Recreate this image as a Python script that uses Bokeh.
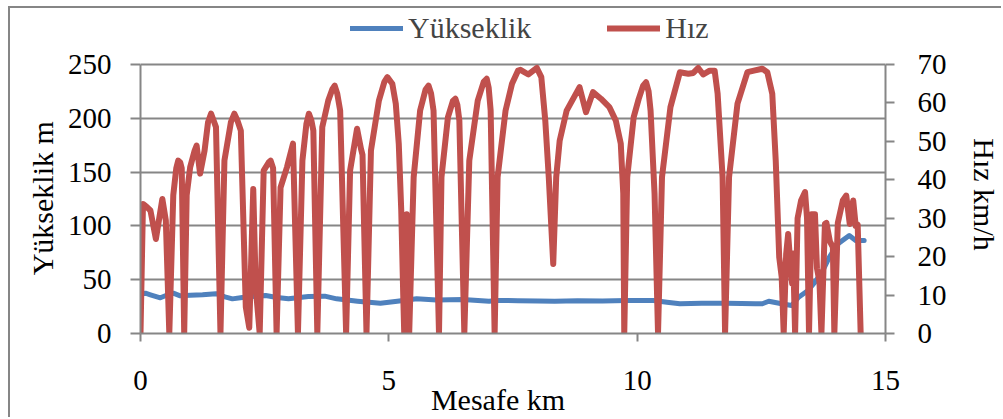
from bokeh.plotting import figure
from bokeh.models import Range1d, LinearAxis, Legend, LegendItem, FixedTicker
from bokeh.embed import file_html
from bokeh.resources import INLINE

# ---- data ----
dist_speed = [0.00, 0.05, 0.12, 0.20, 0.31, 0.44, 0.51, 0.58, 0.66, 0.72, 0.76, 0.80, 0.83, 0.88,
              0.93, 1.00, 1.09, 1.13, 1.20, 1.29, 1.36, 1.42, 1.47, 1.52, 1.61, 1.69, 1.82, 1.89,
              1.95, 2.02, 2.12, 2.19, 2.27, 2.32, 2.40, 2.48, 2.58, 2.62, 2.67, 2.74, 2.82, 2.95,
              3.07, 3.17, 3.26, 3.34, 3.39, 3.44, 3.48, 3.56, 3.66, 3.78, 3.86, 3.91, 3.96,
              4.02, 4.14, 4.22, 4.36, 4.44, 4.47, 4.55, 4.64, 4.80, 4.91, 4.97, 5.07, 5.14,
              5.20, 5.25, 5.29, 5.31, 5.36, 5.41, 5.50, 5.63, 5.74, 5.80, 5.85, 5.90, 6.01,
              6.06, 6.19, 6.29, 6.34, 6.38, 6.42, 6.52, 6.62, 6.79, 6.91, 6.97, 7.01, 7.05,
              7.13, 7.19, 7.35, 7.48, 7.60, 7.65, 7.81, 7.98, 8.07, 8.15, 8.22, 8.31, 8.37,
              8.44, 8.58, 8.84, 8.97, 9.11, 9.27, 9.44, 9.57, 9.67, 9.72, 9.74, 9.80, 9.93,
              10.03, 10.12, 10.18, 10.23, 10.27, 10.35, 10.42, 10.50, 10.67, 10.86, 11.03,
              11.13, 11.23, 11.33, 11.46, 11.56, 11.62, 11.72, 11.77, 11.85, 12.02, 12.22,
              12.35, 12.52, 12.62, 12.72, 12.79, 12.86, 12.91, 12.95, 13.00, 13.04, 13.09,
              13.12, 13.14, 13.18, 13.23, 13.30, 13.38, 13.42, 13.46, 13.51, 13.58, 13.62,
              13.67, 13.71, 13.78, 13.81, 13.88, 13.94, 13.97, 14.04, 14.14, 14.21, 14.28,
              14.35, 14.40, 14.44, 14.50]
speed = [0, 33.7, 33, 32, 24.6, 35, 29.4, 0, 36, 43, 45, 44.5, 43, 0,
         36, 43.3, 47.6, 48.9, 41.6, 47.6, 55, 57.2, 55.5, 53.7, 0, 45, 55, 57.2,
         55.5, 52.8, 6.9, 1.5, 37.6, 12, 0, 42.4, 44.5, 45, 43, 0, 38, 43.3,
         49.4, 0, 45, 54.5, 57.2, 55.5, 52.8, 0, 53.7, 60.6, 63.5, 64.5, 62.5,
         58, 0, 42.4, 53.3, 48, 46.5, 0, 47.6, 60.6, 65.5, 66.7, 65, 59.8,
         49.4, 32, 10, 0, 31, 0, 40.7, 58, 63.5, 64.5, 62.5, 58, 0,
         40.7, 56.3, 60.5, 61.1, 59.5, 55.4, 0, 45, 60.6, 65.5, 66.3, 64, 58,
         0, 40.7, 58, 65, 68.4, 68.6, 67.4, 69.1, 66.7, 55.4, 40.7, 18.1, 40.7,
         50.2, 58, 64.1, 57.6, 62.8, 61.1, 58.9, 55.4, 49.4, 36.4, 0, 40.7, 56.3,
         61, 64.5, 65.4, 63, 58, 36.4, 0, 40.7, 58.9, 68, 67.6,
         67.8, 69.1, 67.4, 68.4, 68.4, 62.4, 40.7, 0, 40.7, 59.8, 68,
         68.4, 68.9, 68, 62.4, 45, 19.9, 14.7, 0, 20.7, 25.9, 17,
         13, 20.8, 0, 30, 34.6, 36.8, 30, 0, 31, 31, 17,
         13.5, 0, 28.5, 28.8, 24, 22.5, 0, 28.8, 34.6, 35.9, 28.5,
         34.6, 28, 28.3, 0]

dist_elev = [0.00, 0.10, 0.20, 0.40, 0.55, 0.66, 0.80, 1.00, 1.25, 1.52, 1.70, 1.85,
             2.05, 2.25, 2.52, 2.75, 2.98, 3.20, 3.38, 3.71, 3.95, 4.37, 4.60, 4.83,
             5.17, 5.56, 5.96, 6.49, 7.02, 7.15, 7.60, 8.00, 8.34, 8.80, 9.30, 9.80,
             10.33, 10.60, 10.86, 11.30, 11.79, 12.10, 12.38, 12.52, 12.65, 12.91, 13.11,
             13.25, 13.44, 13.58, 13.74, 13.87, 14.04, 14.27, 14.40, 14.57]
elev = [37, 37.5, 36, 33.2, 36, 37.5, 35, 35.5, 36, 37, 34, 32.2,
        33.5, 34.4, 35.3, 33.5, 32.2, 33.5, 34.4, 34.7, 32.2, 30, 29, 28.2,
        30, 32.2, 31.1, 31.6, 30, 30.7, 30.5, 30.3, 30, 30.5, 30.3, 30.7,
        30.7, 29, 27.6, 28, 28.2, 27.8, 27.6, 27.6, 30, 27.6, 26,
        33.7, 40, 47.7, 58.6, 70.9, 83.3, 91, 86.4, 86.4]

x_ticks = [0, 5, 10, 15]
elev_ticks = [0, 50, 100, 150, 200, 250]
speed_ticks = [0, 10, 20, 30, 40, 50, 60, 70]

series_names = ["Yükseklik", "Hız"]
x_title = "Mesafe km"
y_title = "Yükseklik m"
y2_title = "Hız km/h"

BLUE = "#4F81BD"
RED = "#C0504D"
GRAY = "#868686"
FONT = "Liberation Serif"
NBSP = "\u00a0"

# plot frame extends above the 250 gridline to hold the legend
TOP_FRAC = (333 - 10) / (333 - 64)
p = figure(width=993, height=411, x_range=Range1d(0, 15),
           y_range=Range1d(0, elev_ticks[-1] * TOP_FRAC),
           output_backend="svg", toolbar_location=None,
           min_border_left=130, min_border_right=108, min_border_top=2, min_border_bottom=86,
           x_axis_location=None, y_axis_location=None)
p.margin = (6, 0, 0, 8)
p.styles = {"border-top": "2px solid #868686", "border-left": "2px solid #868686"}
p.outline_line_color = None
p.extra_y_ranges = {"speed": Range1d(0, speed_ticks[-1] * TOP_FRAC)}

p.xgrid.visible = False
p.ygrid.ticker = FixedTicker(ticks=elev_ticks)
p.ygrid.grid_line_color = GRAY
p.ygrid.grid_line_width = 2


def style_axis(ax, ticks):
    ax.ticker = FixedTicker(ticks=ticks)
    ax.axis_line_color = GRAY
    ax.axis_line_width = 2
    ax.major_tick_line_color = GRAY
    ax.major_tick_line_width = 2
    ax.major_tick_in = 0
    ax.minor_tick_line_color = None
    ax.major_label_text_font = FONT
    ax.major_label_text_font_size = "29px"
    ax.major_label_text_color = "black"
    ax.axis_label_text_font = FONT
    ax.axis_label_text_font_size = "30px"
    ax.axis_label_text_font_style = "normal"
    ax.axis_label_text_color = "black"


xa = LinearAxis(axis_label=x_title + NBSP * 4)
style_axis(xa, x_ticks)
xa.major_tick_out = 8
xa.major_label_standoff = 29
xa.axis_label_standoff = -10
p.add_layout(xa, "below")

# label centred on the frame; trailing padding moves the visible words down
ya = LinearAxis(axis_label=y_title + NBSP * 7)
style_axis(ya, elev_ticks)
ya.bounds = (elev_ticks[0], elev_ticks[-1])
ya.major_tick_out = 10
ya.major_label_standoff = 19
ya.axis_label_standoff = 6
p.add_layout(ya, "left")

ya2 = LinearAxis(axis_label=NBSP * 6 + y2_title, y_range_name="speed")
style_axis(ya2, speed_ticks)
ya2.bounds = (speed_ticks[0], speed_ticks[-1])
ya2.major_tick_out = 9
ya2.major_label_standoff = 23
ya2.axis_label_standoff = 18
p.add_layout(ya2, "right")

r_elev = p.line(dist_elev, elev, line_color=BLUE, line_width=5, line_join="round", line_cap="round")
r_speed = p.line(dist_speed, speed, line_color=RED, line_width=6, line_join="round", line_cap="round",
                 y_range_name="speed")

legend = Legend(items=[LegendItem(label=series_names[0], renderers=[r_elev]),
                       LegendItem(label=series_names[1], renderers=[r_speed])],
                location=(210, 288), orientation="horizontal",
                glyph_width=53, glyph_height=30, label_standoff=5, spacing=76,
                padding=0, margin=0, border_line_alpha=0, background_fill_alpha=0,
                label_text_font=FONT, label_text_font_size="30px")
p.add_layout(legend)

open("out.html", "w").write(file_html(p, INLINE))
